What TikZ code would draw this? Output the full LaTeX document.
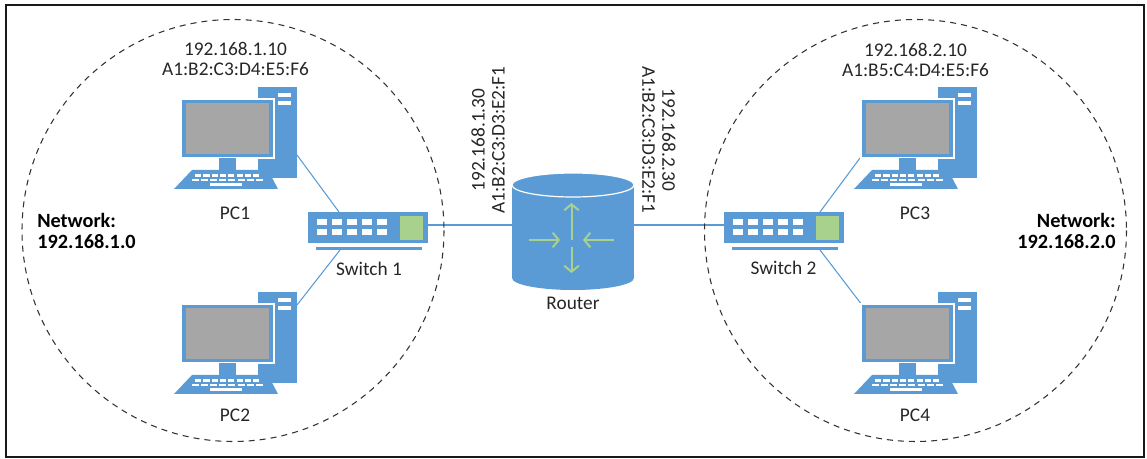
\documentclass[tikz,border=0pt]{standalone}
\usepackage{fontspec}
\setmainfont{Carlito}
\usetikzlibrary{arrows.meta,backgrounds}

\definecolor{netblue}{HTML}{5B9BD5}
\definecolor{portgreen}{HTML}{A9D18E}
\definecolor{screengray}{HTML}{A6A6A6}
\definecolor{txtgray}{HTML}{262626}

\tikzset{
  pics/pc/.style={code={
    \fill[netblue] (84,0) rectangle (123,91);
    \fill[white] (104,6) rectangle (117,10);
    \fill[white] (104,14) rectangle (117,18);
    \draw[fill=netblue, draw=white, line width=0.9pt] (7,12) rectangle (100,71);
    \fill[screengray] (12,16) rectangle (95,67);
    \fill[netblue] (45,71) rectangle (62,83);
    \fill[netblue] (18,83) -- (94,83) -- (104,102) -- (0,102) -- cycle;
    \foreach \k in {0,...,7} {
      \fill[white] (21+\k*8.3,87.5) rectangle ++(6.2,2.4);
      \fill[white] (18+\k*9.1,91.8) rectangle ++(7,2.4);
    }
    \fill[white] (36,96.5) rectangle (68,99.3);
    \coordinate (-tlo) at (123,68);
    \coordinate (-thi) at (123,13);
    \coordinate (-mbl) at (6,71);
    \coordinate (-mtl) at (8,13);
  }},
  pics/switch/.style={code={
    \fill[netblue] (0,0) rectangle (120,31);
    \foreach \k in {0,...,4} {
      \fill[white] (9+\k*15,7) rectangle ++(10,6);
      \fill[white] (9+\k*15,17) rectangle ++(10,6);
    }
    \fill[portgreen] (92,4) rectangle (115,28);
    \fill[netblue] (8,35) rectangle (114,38);
    \coordinate (-w) at (0,13);
    \coordinate (-e) at (120,13);
    \coordinate (-nw) at (31,0);
    \coordinate (-sw) at (32,38);
    \coordinate (-ne) at (96,0);
    \coordinate (-se) at (96,38);
  }}
}

\begin{document}
\begin{tikzpicture}[x=0.75pt, y=-0.75pt,
    lbl/.style={font=\fontsize{14.5}{15}\selectfont, text=txtgray, align=center, inner sep=0pt},
    netlbl/.style={font=\fontsize{15.2}{15.5}\selectfont\bfseries, text=black, inner sep=0pt},
    link/.style={draw=netblue, line width=0.8pt},
    lan/.style={draw=black!80, line width=0.8pt, dash pattern=on 4.5pt off 3.8pt},
    flow/.style={draw=portgreen, line width=1.5pt, -{Straight Barb[length=4.5pt,width=11pt]}}]
  \useasboundingbox (0,0) rectangle (1147,459);
  \draw[line width=1.9pt, black!90] (6,5) rectangle (1144,457);

  \draw[lan] (233,230.5) circle[radius=211];
  \draw[lan] (915.5,230.5) circle[radius=211];

  \pic (pc1) at (174,87) {pc};
  \pic (pc2) at (174,292) {pc};
  \pic (pc3) at (854,87) {pc};
  \pic (pc4) at (854,292) {pc};
  \pic (sw1) at (308,212) {switch};
  \pic (sw2) at (724,212) {switch};

  \fill[netblue] (512,185) rectangle (634,278);
  \fill[netblue] (573,278) ellipse[x radius=61, y radius=12];
  \draw[fill=netblue, draw=white, line width=0.9pt] (573,185) ellipse[x radius=61, y radius=12];
  \draw[flow] (571.5,240) -- (571.5,203);
  \draw[flow] (571.5,247) -- (571.5,273);
  \draw[flow] (529,240) -- (560,240);
  \draw[flow] (614,240) -- (583,240);
  \coordinate (rt-w) at (512,225);
  \coordinate (rt-e) at (634,225);

  \node[lbl] (ip1) at (235.5,59) {192.168.1.10\\A1:B2:C3:D4:E5:F6};
  \node[lbl] (ip3) at (915.5,60) {192.168.2.10\\A1:B5:C4:D4:E5:F6};
  \node[lbl, rotate=90] (rtip1) at (488,140) {192.168.1.30\\A1:B2:C3:D3:E2:F1};
  \node[lbl, rotate=-90] (rtip2) at (659,140) {192.168.2.30\\A1:B2:C3:D3:E2:F1};
  \node[lbl] (pc1lbl) at (235,213) {PC1};
  \node[lbl] (pc2lbl) at (235,415) {PC2};
  \node[lbl] (pc3lbl) at (915,213) {PC3};
  \node[lbl] (pc4lbl) at (915,415) {PC4};
  \node[lbl] (sw1lbl) at (369,269) {Switch 1};
  \node[lbl] (sw2lbl) at (783.5,268) {Switch 2};
  \node[lbl] (router) at (573,303) {Router};
  \node[netlbl, anchor=west, align=left] (net1) at (37,231) {Network:\\192.168.1.0};
  \node[netlbl, anchor=east, align=right] (net2) at (1116,231) {Network:\\192.168.2.0};

  \begin{scope}[on background layer]
    \draw[link] (pc1-tlo) -- (sw1-nw);
    \draw[link] (pc2-thi) -- (sw1-sw);
    \draw[link] (sw1-e) -- (rt-w);
    \draw[link] (rt-e) -- (sw2-w);
    \draw[link] (sw2-ne) -- (pc3-mbl);
    \draw[link] (sw2-se) -- (pc4-mtl);
  \end{scope}
\end{tikzpicture}
\end{document}
